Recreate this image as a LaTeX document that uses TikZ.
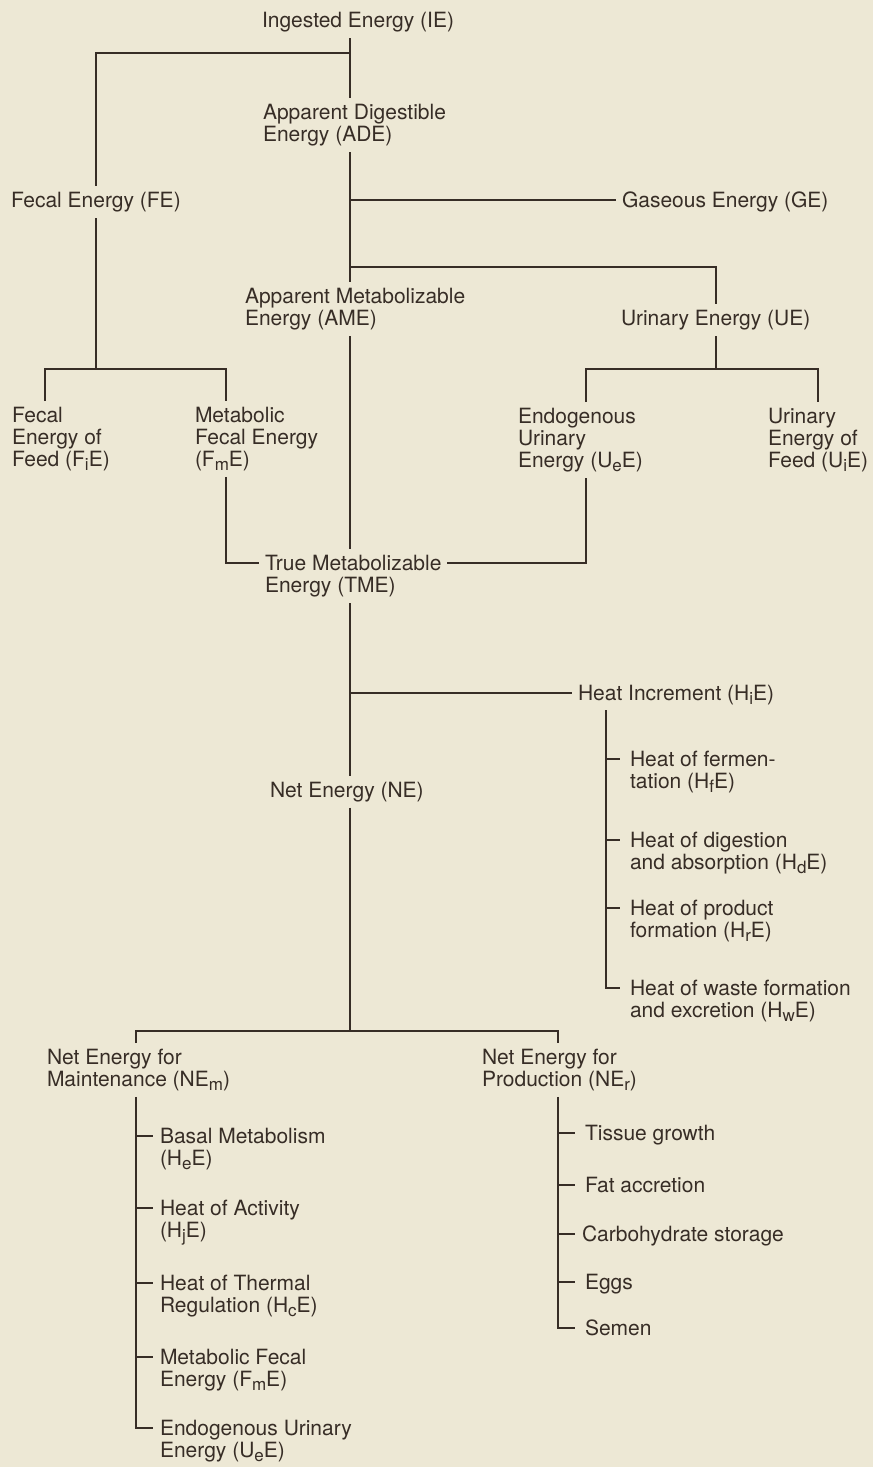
\documentclass[tikz,border=0pt]{standalone}
\usepackage{fontspec}
\setmainfont{TeX Gyre Heros}
\definecolor{paper}{RGB}{237,232,213}
\definecolor{ink}{RGB}{55,45,38}
\newcommand{\lowsub}[1]{\raisebox{-0.4ex}{\fontsize{8.5}{9}\selectfont #1}}

\begin{document}
\begin{tikzpicture}[x=0.5pt,y=-0.5pt,
  lbl/.style={anchor=base west,inner sep=0pt,outer sep=3pt,align=left,text=ink,
    font=\fontsize{10.5}{11}\selectfont},
  wire/.style={draw=ink,line width=1pt}]
  \fill[paper] (0,0) rectangle (873,1467);
  \useasboundingbox (0,0) rectangle (873,1467);

  % energy partition (base = last line)
  \node[lbl] (ie) at (256,27.5) {Ingested Energy (IE)};
  \node[lbl] (ade) at (257,141.5) {Apparent Digestible\\Energy (ADE)};
  \node[lbl] (fe) at (5,207.5) {Fecal Energy (FE)};
  \node[lbl] (ge) at (616,207.5) {Gaseous Energy (GE)};
  \node[lbl] (ame) at (239,325.5) {Apparent Metabolizable\\Energy (AME)};
  \node[lbl] (ue) at (615,325.5) {Urinary Energy (UE)};
  \node[lbl] (fie) at (6,466.5) {Fecal\\Energy of\\Feed (F\lowsub{i}E)};
  \node[lbl] (fme) at (189,466.5) {Metabolic\\Fecal Energy\\(F\lowsub{m}E)};
  \node[lbl] (uee) at (512,467.5) {Endogenous\\Urinary\\Energy (U\lowsub{e}E)};
  \node[lbl] (uie) at (762,467.5) {Urinary\\Energy of\\Feed (U\lowsub{i}E)};
  \node[lbl] (tme) at (259,592.5) {True Metabolizable\\Energy (TME)};
  \node[lbl] (hie) at (572,700) {Heat Increment (H\lowsub{i}E)};
  \node[lbl] (ne) at (264,797) {Net Energy (NE)};

  % heat increment
  \node[lbl] (hf) at (624,788.5) {Heat of fermen-\\tation (H\lowsub{f}E)};
  \node[lbl] (hd) at (624,869.5) {Heat of digestion\\and absorption (H\lowsub{d}E)};
  \node[lbl] (hr) at (624,937.5) {Heat of product\\formation (H\lowsub{r}E)};
  \node[lbl] (hw) at (624,1017.5) {Heat of waste formation\\and excretion (H\lowsub{w}E)};

  % net energy
  \node[lbl] (nem) at (41,1086.5) {Net Energy for\\Maintenance (NE\lowsub{m})};
  \node[lbl] (ner) at (476,1086.5) {Net Energy for\\Production (NE\lowsub{r})};
  \node[lbl] (m1) at (154,1165.5) {Basal Metabolism\\(H\lowsub{e}E)};
  \node[lbl] (m2) at (154,1237.5) {Heat of Activity\\(H\lowsub{j}E)};
  \node[lbl] (m3) at (154,1312.5) {Heat of Thermal\\Regulation (H\lowsub{c}E)};
  \node[lbl] (m4) at (154,1386.5) {Metabolic Fecal\\Energy (F\lowsub{m}E)};
  \node[lbl] (m5) at (154,1457) {Endogenous Urinary\\Energy (U\lowsub{e}E)};
  \node[lbl] (p1) at (579,1140.5) {Tissue growth};
  \node[lbl] (p2) at (579,1192.5) {Fat accretion};
  \node[lbl] (p3) at (576,1241.5) {Carbohydrate storage};
  \node[lbl] (p4) at (579,1289.5) {Eggs};
  \node[lbl] (p5) at (579,1335.5) {Semen};

  \coordinate (trunk) at (350,0);
  \coordinate (j1) at (350,53);
  \coordinate (j2) at (350,267);
  \coordinate (fl) at (45,369);
  \coordinate (fr) at (226,369);
  \coordinate (ul) at (586,369);
  \coordinate (ur) at (818,369);
  \coordinate (hx) at (606,0);
  \coordinate (nl) at (136,1031);
  \coordinate (nr) at (558,1031);

  % main line
  \draw[wire] (ie.south -| trunk) -- (ade.north -| trunk);
  \draw[wire] (ade.south -| trunk) -- (ame.north -| trunk);
  \draw[wire] (ame.south -| trunk) -- (tme.north -| trunk);
  \draw[wire] (tme.south -| trunk) -- (ne.north -| trunk);
  \draw[wire] (ne.south -| trunk) -- (trunk |- nl);

  % fecal
  \draw[wire] (j1) -| (fe.north);
  \draw[wire] (fe.south) -- (fe.south |- fl);
  \draw[wire] (fie.north -| fl) -- (fl) -- (fr) -- (fme.north -| fr);
  \draw[wire] (fme.south -| fr) -- ([yshift=14.7pt]fr |- tme.base) -- ([yshift=14.7pt]tme.base west);

  % gaseous, urinary
  \draw[wire] ([yshift=3.7pt]trunk |- ge.base) -- ([yshift=3.7pt]ge.base west);
  \draw[wire] (j2) -| (ue.north);
  \draw[wire] (ue.south) -- (ue.south |- ul);
  \draw[wire] (uee.north -| ul) -- (ul) -- (ur) -- (uie.north -| ur);
  \draw[wire] (uee.south -| ul) -- ([yshift=14.7pt]ul |- tme.base) -- ([yshift=14.7pt]tme.base east);

  % heat increment
  \draw[wire] ([yshift=3.7pt]trunk |- hie.base) -- ([yshift=3.7pt]hie.base west);
  \draw[wire] (hie.south -| hx) -- ([yshift=14.7pt]hx |- hw.base) -- ++(14,0);
  \foreach \n in {hf,hd,hr}
    \draw[wire] ([yshift=14.7pt]hx |- \n.base) -- ++(14,0);

  % maintenance, production
  \draw[wire] (nem.north -| nl) -- (nl) -- (nr) -- (ner.north -| nr);
  \draw[wire] (nem.south -| nl) -- ([yshift=14.7pt]nl |- m5.base) -- ++(17,0);
  \foreach \n in {m1,m2,m3,m4}
    \draw[wire] ([yshift=14.7pt]nl |- \n.base) -- ++(17,0);
  \draw[wire] (ner.south -| nr) -- ([yshift=3.7pt]nr |- p5.base) -- ++(17,0);
  \foreach \n in {p1,p2,p3,p4}
    \draw[wire] ([yshift=3.7pt]nr |- \n.base) -- ++(17,0);
\end{tikzpicture}
\end{document}
